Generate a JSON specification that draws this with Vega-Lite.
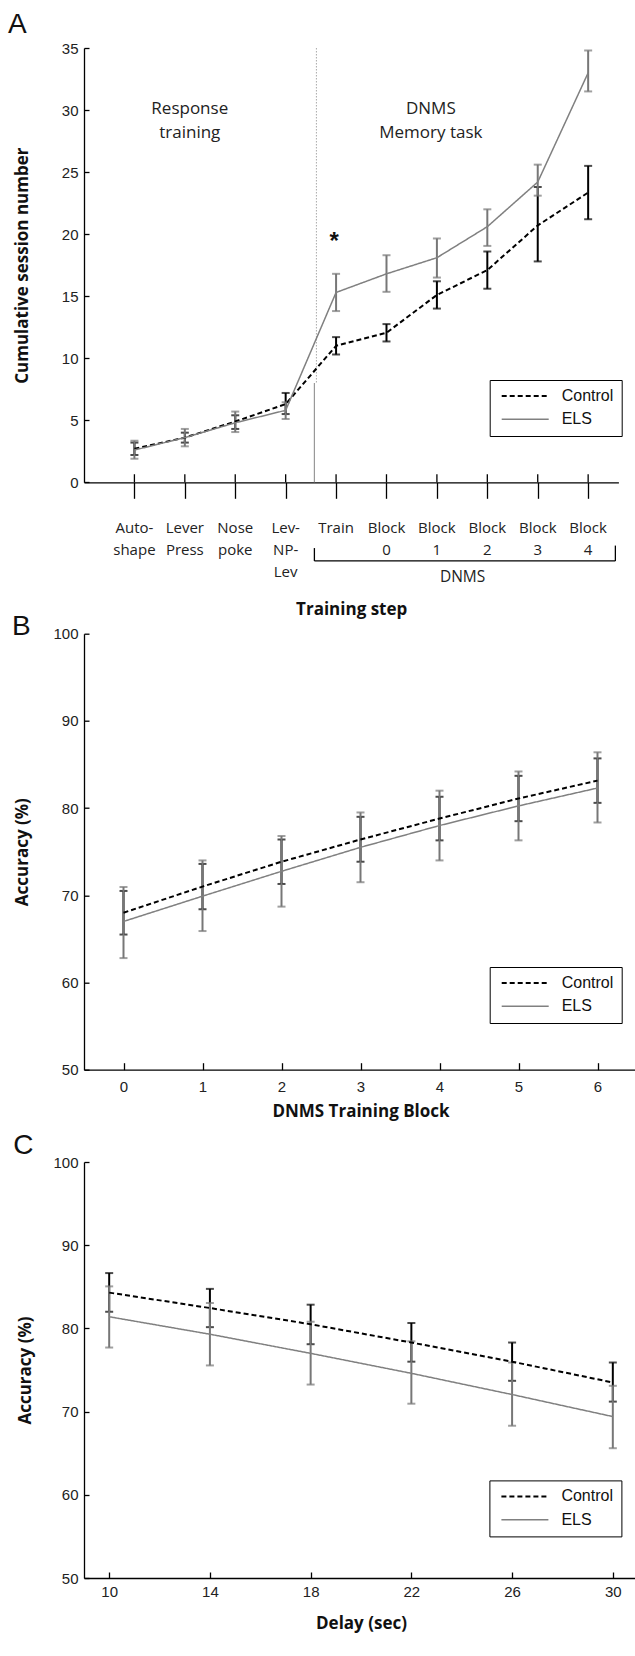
{
  "$schema": "https://vega.github.io/schema/vega-lite/v6.json",
  "background": "white",
  "padding": {"left": 7, "top": 11, "right": 0, "bottom": 12},
  "config": {
    "view": {"stroke": null},
    "axis": {
      "grid": false,
      "domainColor": "#000000",
      "domainWidth": 1.3,
      "tickColor": "#000000",
      "tickWidth": 1.3,
      "labelColor": "#222222",
      "labelFont": "Liberation Sans",
      "labelFontSize": 15,
      "titleColor": "#111111",
      "titleFont": "Open Sans",
      "titleFontSize": 17,
      "titleFontWeight": "bold"
    },
    "legend": {
      "orient": "none",
      "direction": "vertical",
      "title": null,
      "symbolType": "stroke",
      "symbolSize": 2209,
      "clipHeight": 16,
      "symbolOffset": 3,
      "labelOffset": 12,
      "rowPadding": 7.3,
      "padding": 8,
      "strokeColor": "#000000",
      "fillColor": "#ffffff",
      "labelFont": "Liberation Sans",
      "labelFontSize": 16,
      "labelColor": "#111111"
    }
  },
  "datasets": {
    "A": [
      {"step": 1, "group": "Control", "mean": 2.7, "lo": 2.2, "hi": 3.2},
      {"step": 2, "group": "Control", "mean": 3.6, "lo": 3.2, "hi": 4.0},
      {"step": 3, "group": "Control", "mean": 4.9, "lo": 4.3, "hi": 5.4},
      {"step": 4, "group": "Control", "mean": 6.3, "lo": 5.5, "hi": 7.2},
      {"step": 5, "group": "Control", "mean": 11.0, "lo": 10.3, "hi": 11.7},
      {"step": 6, "group": "Control", "mean": 12.05, "lo": 11.35, "hi": 12.75},
      {"step": 7, "group": "Control", "mean": 15.1, "lo": 14.0, "hi": 16.2},
      {"step": 8, "group": "Control", "mean": 17.1, "lo": 15.6, "hi": 18.6},
      {"step": 9, "group": "Control", "mean": 20.7, "lo": 17.8, "hi": 23.8},
      {"step": 10, "group": "Control", "mean": 23.35, "lo": 21.2, "hi": 25.5},
      {"step": 1, "group": "ELS", "mean": 2.6, "lo": 1.9, "hi": 3.35},
      {"step": 2, "group": "ELS", "mean": 3.6, "lo": 2.9, "hi": 4.3},
      {"step": 3, "group": "ELS", "mean": 4.8, "lo": 4.05, "hi": 5.7},
      {"step": 4, "group": "ELS", "mean": 5.8, "lo": 5.1, "hi": 6.45},
      {"step": 5, "group": "ELS", "mean": 15.3, "lo": 13.8, "hi": 16.8},
      {"step": 6, "group": "ELS", "mean": 16.8, "lo": 15.35, "hi": 18.3},
      {"step": 7, "group": "ELS", "mean": 18.1, "lo": 16.5, "hi": 19.65},
      {"step": 8, "group": "ELS", "mean": 20.6, "lo": 19.05, "hi": 22.0},
      {"step": 9, "group": "ELS", "mean": 24.2, "lo": 23.1, "hi": 25.6},
      {"step": 10, "group": "ELS", "mean": 33.0, "lo": 31.5, "hi": 34.8}
    ],
    "A_steps": [
      {"step": 1, "label": ["Auto-", "shape"]},
      {"step": 2, "label": ["Lever", "Press"]},
      {"step": 3, "label": ["Nose", "poke"]},
      {"step": 4, "label": ["Lev-", "NP-", "Lev"]},
      {"step": 5, "label": ["Train"]},
      {"step": 6, "label": ["Block", "0"]},
      {"step": 7, "label": ["Block", "1"]},
      {"step": 8, "label": ["Block", "2"]},
      {"step": 9, "label": ["Block", "3"]},
      {"step": 10, "label": ["Block", "4"]}
    ],
    "B": [
      {"block": 0, "group": "Control", "mean": 68.0, "lo": 65.5, "hi": 70.5},
      {"block": 1, "group": "Control", "mean": 71.0, "lo": 68.4, "hi": 73.6},
      {"block": 2, "group": "Control", "mean": 73.85, "lo": 71.3, "hi": 76.4},
      {"block": 3, "group": "Control", "mean": 76.4, "lo": 73.85, "hi": 79.0},
      {"block": 4, "group": "Control", "mean": 78.8, "lo": 76.3, "hi": 81.3},
      {"block": 5, "group": "Control", "mean": 81.1, "lo": 78.5, "hi": 83.7},
      {"block": 6, "group": "Control", "mean": 83.15, "lo": 80.6, "hi": 85.7},
      {"block": 0, "group": "ELS", "mean": 67.0, "lo": 62.8, "hi": 70.95},
      {"block": 1, "group": "ELS", "mean": 69.9, "lo": 65.9, "hi": 74.0},
      {"block": 2, "group": "ELS", "mean": 72.75, "lo": 68.7, "hi": 76.8},
      {"block": 3, "group": "ELS", "mean": 75.5, "lo": 71.5, "hi": 79.5},
      {"block": 4, "group": "ELS", "mean": 78.0, "lo": 74.0, "hi": 82.0},
      {"block": 5, "group": "ELS", "mean": 80.25, "lo": 76.3, "hi": 84.2},
      {"block": 6, "group": "ELS", "mean": 82.3, "lo": 78.35, "hi": 86.4}
    ],
    "C": [
      {"delay": 10, "group": "Control", "mean": 84.3, "lo": 82.0, "hi": 86.65},
      {"delay": 14, "group": "Control", "mean": 82.45, "lo": 80.15, "hi": 84.75},
      {"delay": 18, "group": "Control", "mean": 80.5, "lo": 78.1, "hi": 82.85},
      {"delay": 22, "group": "Control", "mean": 78.3, "lo": 76.0, "hi": 80.65},
      {"delay": 26, "group": "Control", "mean": 76.0, "lo": 73.7, "hi": 78.3},
      {"delay": 30, "group": "Control", "mean": 73.5, "lo": 71.2, "hi": 75.9},
      {"delay": 10, "group": "ELS", "mean": 81.4, "lo": 77.7, "hi": 85.05},
      {"delay": 14, "group": "ELS", "mean": 79.3, "lo": 75.55, "hi": 83.05},
      {"delay": 18, "group": "ELS", "mean": 77.0, "lo": 73.25, "hi": 80.8},
      {"delay": 22, "group": "ELS", "mean": 74.6, "lo": 70.95, "hi": 78.45},
      {"delay": 26, "group": "ELS", "mean": 72.05, "lo": 68.3, "hi": 75.9},
      {"delay": 30, "group": "ELS", "mean": 69.4, "lo": 65.6, "hi": 73.1}
    ]
  },
  "bounds": "flush",
  "spacing": 150.7,
  "resolve": {
    "scale": {"color": "independent", "strokeDash": "independent", "strokeWidth": "independent"},
    "legend": {"color": "independent", "strokeDash": "independent", "strokeWidth": "independent"}
  },
  "vconcat": [
    {
      "width": 534.4,
      "height": 434.3,
      "data": {"name": "A"},
      "layer": [
        {
          "data": {"values": [{}]},
          "mark": {"type": "rule", "color": "#aaaaaa", "strokeWidth": 1, "strokeDash": [1.5, 1.5]},
          "encoding": {"x": {"datum": 4.61}, "y": {"datum": 35}, "y2": {"datum": 8}}
        },
        {
          "data": {"values": [{}]},
          "mark": {"type": "rule", "color": "#999999", "strokeWidth": 1.2},
          "encoding": {"x": {"datum": 4.57}, "y": {"datum": 8}, "y2": {"datum": 0}}
        },
        {
          "data": {"name": "A_steps"},
          "mark": {"type": "rule", "color": "#000000", "strokeWidth": 1.3},
          "encoding": {"x": {"field": "step", "type": "quantitative", "title": "Training step"}, "y": {"datum": 0}, "y2": {"datum": 0.65}}
        },
        {
          "transform": [{"filter": "datum.group === 'Control'"}],
          "mark": {"type": "errorbar", "ticks": {"size": 8, "thickness": 2, "color": "#000000"}, "rule": {"strokeWidth": 2, "color": "#000000"}},
          "encoding": {"x": {"field": "step", "type": "quantitative", "title": "Training step"}, "y": {"field": "lo", "type": "quantitative", "title": "Cumulative session number"}, "y2": {"field": "hi"}}
        },
        {
          "transform": [{"filter": "datum.group === 'ELS'"}],
          "mark": {"type": "errorbar", "ticks": {"size": 8, "thickness": 2, "color": "#777777"}, "rule": {"strokeWidth": 2, "color": "#777777"}},
          "encoding": {"x": {"field": "step", "type": "quantitative", "title": "Training step"}, "y": {"field": "lo", "type": "quantitative", "title": "Cumulative session number"}, "y2": {"field": "hi"}}
        },
        {
          "mark": {"type": "line"},
          "encoding": {
            "x": {"field": "step", "type": "quantitative", "scale": {"domain": [0, 10.6], "nice": false, "zero": false},
                  "axis": {"values": [1, 2, 3, 4, 5, 6, 7, 8, 9, 10], "labels": false, "tickSize": 16, "title": "Training step", "titlePadding": 102.7}},
            "y": {"field": "mean", "type": "quantitative", "scale": {"domain": [0, 35], "nice": false},
                  "axis": {"values": [0, 5, 10, 15, 20, 25, 30, 35], "format": "d", "tickSize": -5, "labelPadding": 11, "title": "Cumulative session number", "titlePadding": 29.5}},
            "color": {"field": "group", "type": "nominal", "scale": {"domain": ["Control", "ELS"], "range": ["#000000", "#808080"]}, "legend": {"legendX": 405.7, "legendY": 332}},
            "strokeDash": {"field": "group", "type": "nominal", "scale": {"domain": ["Control", "ELS"], "range": [[5, 3], [1, 0]]}},
            "strokeWidth": {"field": "group", "type": "nominal", "scale": {"domain": ["Control", "ELS"], "range": [2, 1.5]}}
          }
        },
        {
          "data": {"values": [{}]},
          "mark": {"type": "text", "font": "Open Sans", "fontSize": 17, "align": "center", "baseline": "middle", "lineHeight": 24, "color": "#222222", "text": ["Response", "training"]},
          "encoding": {"x": {"datum": 2.098}, "y": {"datum": 30.08}}
        },
        {
          "data": {"values": [{}]},
          "mark": {"type": "text", "font": "Open Sans", "fontSize": 17, "align": "center", "baseline": "middle", "lineHeight": 24, "color": "#222222", "text": ["DNMS", "Memory task"]},
          "encoding": {"x": {"datum": 6.88}, "y": {"datum": 30.08}}
        },
        {
          "data": {"values": [{}]},
          "mark": {"type": "text", "font": "Liberation Sans", "fontSize": 24, "fontWeight": "bold", "align": "center", "baseline": "middle", "color": "#111111", "text": "*"},
          "encoding": {"x": {"datum": 4.96}, "y": {"datum": 19.4}}
        },
        {
          "data": {"name": "A_steps"},
          "mark": {"type": "text", "font": "Open Sans", "fontSize": 15, "align": "center", "baseline": "top", "lineHeight": 22, "color": "#222222"},
          "encoding": {"x": {"field": "step", "type": "quantitative"}, "y": {"datum": -3.08}, "text": {"field": "label"}}
        },
        {
          "data": {"values": [{}]},
          "mark": {"type": "rule", "color": "#000000", "strokeWidth": 1.3},
          "encoding": {"x": {"datum": 4.57}, "y": {"datum": -5.3}, "y2": {"datum": -6.34}}
        },
        {
          "data": {"values": [{}]},
          "mark": {"type": "rule", "color": "#000000", "strokeWidth": 1.3},
          "encoding": {"x": {"datum": 4.57}, "x2": {"datum": 10.54}, "y": {"datum": -6.34}}
        },
        {
          "data": {"values": [{}]},
          "mark": {"type": "rule", "color": "#000000", "strokeWidth": 1.3},
          "encoding": {"x": {"datum": 10.54}, "y": {"datum": -5.1}, "y2": {"datum": -6.34}}
        },
        {
          "data": {"values": [{}]},
          "mark": {"type": "text", "font": "Open Sans", "fontSize": 15.5, "align": "center", "baseline": "middle", "color": "#222222", "text": "DNMS"},
          "encoding": {"x": {"datum": 7.51}, "y": {"datum": -7.63}}
        },
        {
          "data": {"values": [{}]},
          "mark": {"type": "text", "font": "Liberation Sans", "fontSize": 28, "align": "left", "baseline": "alphabetic", "color": "#111111", "text": "A"},
          "encoding": {"x": {"datum": -1.509}, "y": {"datum": 36.2}}
        }
      ]
    },
    {
      "bounds": "flush",
      "spacing": 92.3,
      "resolve": {
        "scale": {"color": "independent", "strokeDash": "independent", "strokeWidth": "independent"},
        "legend": {"color": "independent", "strokeDash": "independent", "strokeWidth": "independent"}
      },
      "vconcat": [
        {
          "width": 553,
          "height": 436,
          "data": {"name": "B"},
          "layer": [
            {
              "transform": [{"filter": "datum.group === 'Control'"}],
              "mark": {"type": "errorbar", "ticks": {"size": 8, "thickness": 2, "color": "#000000"}, "rule": {"strokeWidth": 2, "color": "#000000"}},
              "encoding": {"x": {"field": "block", "type": "quantitative", "title": "DNMS Training Block"}, "y": {"field": "lo", "type": "quantitative", "title": "Accuracy (%)"}, "y2": {"field": "hi"}}
            },
            {
              "transform": [{"filter": "datum.group === 'ELS'"}],
              "mark": {"type": "errorbar", "ticks": {"size": 8, "thickness": 2, "color": "#777777"}, "rule": {"strokeWidth": 2, "color": "#777777"}},
              "encoding": {"x": {"field": "block", "type": "quantitative", "title": "DNMS Training Block"}, "y": {"field": "lo", "type": "quantitative", "title": "Accuracy (%)"}, "y2": {"field": "hi"}}
            },
            {
              "mark": {"type": "line"},
              "encoding": {
                "x": {"field": "block", "type": "quantitative", "scale": {"domain": [-0.5, 6.5], "nice": false, "zero": false},
                      "axis": {"values": [0, 1, 2, 3, 4, 5, 6], "format": "d", "tickSize": -7, "labelPadding": 16.5, "title": "DNMS Training Block", "titlePadding": 9.5}},
                "y": {"field": "mean", "type": "quantitative", "scale": {"domain": [50, 100], "nice": false, "zero": false},
                      "axis": {"values": [50, 60, 70, 80, 90, 100], "format": "d", "tickSize": -5, "labelPadding": 11, "title": "Accuracy (%)", "titlePadding": 21.5}},
                "color": {"field": "group", "type": "nominal", "scale": {"domain": ["Control", "ELS"], "range": ["#000000", "#808080"]}, "legend": {"legendX": 405.7, "legendY": 333.3}},
                "strokeDash": {"field": "group", "type": "nominal", "scale": {"domain": ["Control", "ELS"], "range": [[5, 3], [1, 0]]}},
                "strokeWidth": {"field": "group", "type": "nominal", "scale": {"domain": ["Control", "ELS"], "range": [2, 1.5]}}
              }
            },
            {
              "data": {"values": [{}]},
              "mark": {"type": "text", "font": "Liberation Sans", "fontSize": 28, "align": "left", "baseline": "alphabetic", "color": "#111111", "text": "B"},
              "encoding": {"x": {"datum": -1.411}, "y": {"datum": 99.89}}
            }
          ]
        },
        {
          "width": 554,
          "height": 416,
          "data": {"name": "C"},
          "layer": [
            {
              "transform": [{"filter": "datum.group === 'Control'"}],
              "mark": {"type": "errorbar", "ticks": {"size": 8, "thickness": 2, "color": "#000000"}, "rule": {"strokeWidth": 2, "color": "#000000"}},
              "encoding": {"x": {"field": "delay", "type": "quantitative", "title": "Delay (sec)"}, "y": {"field": "lo", "type": "quantitative", "title": "Accuracy (%)"}, "y2": {"field": "hi"}}
            },
            {
              "transform": [{"filter": "datum.group === 'ELS'"}],
              "mark": {"type": "errorbar", "ticks": {"size": 8, "thickness": 2, "color": "#777777"}, "rule": {"strokeWidth": 2, "color": "#777777"}},
              "encoding": {"x": {"field": "delay", "type": "quantitative", "title": "Delay (sec)"}, "y": {"field": "lo", "type": "quantitative", "title": "Accuracy (%)"}, "y2": {"field": "hi"}}
            },
            {
              "mark": {"type": "line"},
              "encoding": {
                "x": {"field": "delay", "type": "quantitative", "scale": {"domain": [9, 31], "nice": false, "zero": false},
                      "axis": {"values": [10, 14, 18, 22, 26, 30], "format": "d", "tickSize": -6, "labelPadding": 12.9, "title": "Delay (sec)", "titlePadding": 15.8}},
                "y": {"field": "mean", "type": "quantitative", "scale": {"domain": [50, 100], "nice": false, "zero": false},
                      "axis": {"values": [50, 60, 70, 80, 90, 100], "format": "d", "tickSize": -5, "labelPadding": 11, "title": "Accuracy (%)", "titlePadding": 18.5}},
                "color": {"field": "group", "type": "nominal", "scale": {"domain": ["Control", "ELS"], "range": ["#000000", "#808080"]}, "legend": {"legendX": 405.4, "legendY": 318.4}},
                "strokeDash": {"field": "group", "type": "nominal", "scale": {"domain": ["Control", "ELS"], "range": [[5, 3], [1, 0]]}},
                "strokeWidth": {"field": "group", "type": "nominal", "scale": {"domain": ["Control", "ELS"], "range": [2, 1.5]}}
              }
            },
            {
              "data": {"values": [{}]},
              "mark": {"type": "text", "font": "Liberation Sans", "fontSize": 28, "align": "left", "baseline": "alphabetic", "color": "#111111", "text": "C"},
              "encoding": {"x": {"datum": 6.195}, "y": {"datum": 101.0}}
            }
          ]
        }
      ]
    }
  ]
}
